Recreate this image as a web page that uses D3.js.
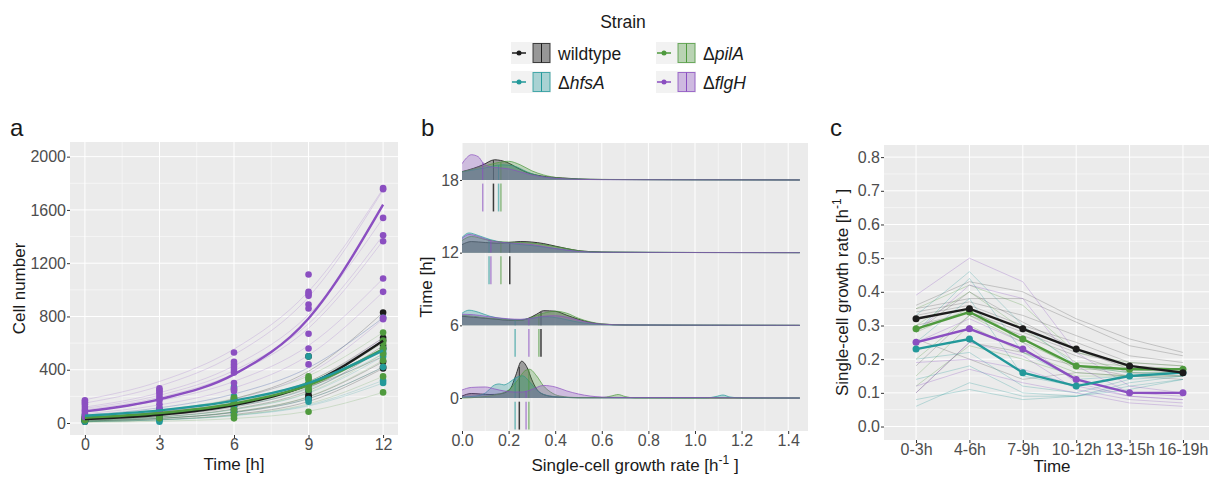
<!DOCTYPE html>
<html>
<head>
<meta charset="utf-8">
<script src="https://cdn.jsdelivr.net/npm/d3@7"></script>
<style>
  body { margin: 0; background: #fff; }
  svg { font-family: "Liberation Sans", Arial, sans-serif; }
</style>
</head>
<body>
<svg id="chart" width="1209" height="477"></svg>
<script>
// strains (legend order) and colours
const strains = ["wildtype", "hfsA", "pilA", "flgH"];
const strainColors = ["#1c1c1c", "#23999a", "#4f9a3e", "#8b4fc1"];
const ridgeFills = ["#3c3c3c", "#23999a", "#4f9a3e", "#8b4fc1"];
const ridgeFillOpacity = [0.45, 0.3, 0.3, 0.3];

// ---- panel a : cell numbers ----
const timePointsA = [0, 3, 6, 9, 12];
const cellsWildtype = [[40, 30, 25, 20, 15, 10], [85, 70, 55, 40, 30], [180, 150, 120, 100, 80],
  [500, 290, 240, 210, 200, 180], [830, 640, 620, 580, 560, 460, 420, 410]];
const cellsHfsA = [[60, 45, 30, 20, 10], [110, 90, 70, 45, 20, 10], [270, 200, 180, 160, 130, 100, 80, 55],
  [500, 330, 290, 250, 180, 160], [790, 560, 540, 520, 500, 420, 320, 300]];
const cellsPilA = [[50, 40, 30, 20], [95, 75, 55, 35], [250, 190, 150, 100, 60, 35],
  [350, 330, 300, 270, 250, 85], [680, 620, 600, 560, 520, 470, 350, 230]];
const cellsFlgH = [[170, 155, 140, 120, 100, 85, 65, 45], [260, 245, 230, 210, 190, 170, 140, 110, 90],
  [530, 460, 440, 420, 400, 380, 300, 260, 240], [1115, 985, 970, 955, 890, 860, 670, 560, 440],
  [1765, 1755, 1540, 1410, 1365, 1085, 985, 790, 780]];

// fitted growth curves of single replicates (values at 0,3,6,9,12 h)
const fitsWildtype = [[40, 85, 182, 389, 830], [35, 72, 150, 310, 640], [30, 64, 136, 291, 620],
  [25, 55, 120, 264, 580], [20, 46, 106, 243, 560], [15, 35, 83, 196, 460], [15, 35, 79, 183, 420],
  [10, 25, 64, 162, 410], [45, 82, 150, 274, 500]];
const fitsHfsA = [[60, 114, 218, 415, 790], [50, 91, 167, 306, 560], [40, 77, 147, 282, 540],
  [30, 61, 125, 255, 520], [20, 45, 100, 224, 500], [15, 35, 79, 183, 420], [10, 24, 57, 135, 320],
  [10, 23, 55, 128, 300]];
const fitsPilA = [[50, 96, 184, 354, 680], [40, 79, 157, 312, 620], [35, 71, 145, 295, 600],
  [30, 62, 130, 270, 560], [20, 45, 102, 230, 520], [15, 35, 84, 199, 470], [10, 24, 59, 144, 350],
  [5, 13, 34, 88, 230]];
const fitsFlgH = [[175, 312, 555, 988, 1760], [150, 277, 512, 946, 1750], [120, 227, 430, 814, 1540],
  [110, 208, 394, 745, 1410], [100, 192, 370, 712, 1370], [90, 168, 312, 582, 1085], [70, 136, 263, 509, 985],
  [60, 114, 218, 415, 790], [40, 84, 177, 371, 780], [30, 64, 139, 297, 640]];
// mean fits per strain
const meanFits = [[30, 62, 135, 290, 617], [55, 95, 168, 300, 545], [40, 75, 145, 285, 555], [87, 178, 365, 785, 1640]];
const yTicksA = [0, 400, 800, 1200, 1600, 2000];

// ---- panel b : growth rate densities ([rate, density]) ----
const ridgeTimes = [0, 6, 12, 18];
const ridge0h = [
  [[0,0.33],[0.04,0.75],[0.08,0.67],[0.12,0.58],[0.16,0.67],[0.19,1.0],[0.21,1.67],[0.23,3.67],[0.256,6.08],[0.28,5.0],[0.3,3.0],[0.32,1.5],[0.35,0.58],[0.4,0.2],[0.5,0.05],[0.8,0.03],[1.45,0]],
  [[0,0.17],[0.06,0.33],[0.1,0.83],[0.14,2.17],[0.16,2.33],[0.18,2.17],[0.2,2.5],[0.23,3.33],[0.26,3.67],[0.29,2.67],[0.32,1.33],[0.36,0.5],[0.42,0.17],[0.5,0.05],[1.05,0.03],[1.09,0.25],[1.12,0.5],[1.15,0.17],[1.2,0.02],[1.45,0]],
  [[0,0],[0.08,0.17],[0.14,0.5],[0.2,1.33],[0.24,3.0],[0.27,4.5],[0.29,4.75],[0.32,3.67],[0.35,2.0],[0.38,1.0],[0.42,0.33],[0.5,0.08],[0.6,0.08],[0.64,0.33],[0.67,0.58],[0.7,0.25],[0.74,0.03],[1.45,0]],
  [[0,1.33],[0.04,1.75],[0.1,1.83],[0.14,1.5],[0.18,1.17],[0.22,1.0],[0.26,1.0],[0.3,1.42],[0.35,2.08],[0.4,1.83],[0.45,1.17],[0.5,0.67],[0.55,0.33],[0.6,0.17],[0.7,0.08],[1.0,0.08],[1.1,0.05],[1.45,0]]
];
const ridge6h = [
  [[0,1.5],[0.05,1.33],[0.1,1.17],[0.15,1.0],[0.2,0.83],[0.25,0.83],[0.28,1.08],[0.32,1.83],[0.35,2.42],[0.4,2.33],[0.45,1.67],[0.5,1.0],[0.55,0.5],[0.6,0.2],[0.7,0.07],[0.9,0.03],[1.45,0]],
  [[0,2.0],[0.03,2.5],[0.07,2.17],[0.12,1.5],[0.18,1.08],[0.24,0.92],[0.3,1.17],[0.36,1.42],[0.42,1.17],[0.48,0.67],[0.55,0.25],[0.65,0.08],[1.45,0]],
  [[0,1.67],[0.05,1.5],[0.1,1.25],[0.15,1.08],[0.2,0.92],[0.25,0.83],[0.3,1.33],[0.35,2.0],[0.4,2.33],[0.45,2.0],[0.5,1.17],[0.55,0.58],[0.6,0.25],[0.7,0.07],[1.45,0]],
  [[0,1.83],[0.05,1.75],[0.1,1.5],[0.15,1.25],[0.2,1.08],[0.25,1.0],[0.3,1.17],[0.35,1.5],[0.4,1.58],[0.45,1.33],[0.5,0.83],[0.55,0.42],[0.6,0.2],[0.7,0.07],[1.45,0]]
];
const ridge12h = [
  [[0,1.33],[0.04,1.83],[0.1,1.67],[0.15,1.58],[0.2,1.67],[0.25,1.83],[0.3,1.75],[0.35,1.5],[0.4,1.08],[0.45,0.67],[0.5,0.33],[0.55,0.17],[0.65,0.07],[0.8,0.03],[1.45,0]],
  [[0,2.5],[0.03,3.25],[0.07,2.83],[0.12,2.17],[0.18,1.67],[0.25,1.33],[0.3,1.17],[0.35,0.92],[0.4,0.67],[0.45,0.42],[0.5,0.2],[0.6,0.07],[1.45,0]],
  [[0,2.0],[0.04,2.67],[0.1,2.17],[0.15,1.83],[0.2,1.75],[0.25,1.67],[0.3,1.58],[0.35,1.33],[0.4,1.0],[0.45,0.67],[0.5,0.33],[0.6,0.1],[1.45,0]],
  [[0,2.33],[0.03,3.0],[0.07,2.67],[0.12,2.0],[0.18,1.67],[0.25,1.5],[0.3,1.33],[0.35,1.0],[0.4,0.67],[0.45,0.42],[0.5,0.2],[0.6,0.07],[1.45,0]]
];
const ridge18h = [
  [[0,1.38],[0.05,1.92],[0.09,2.5],[0.14,3.33],[0.19,2.95],[0.24,1.95],[0.28,1.22],[0.34,0.67],[0.43,0.33],[0.5,0.17],[0.6,0.08],[0.8,0.05],[1.0,0.03],[1.2,0.02],[1.45,0]],
  [[0,1.33],[0.1,2.0],[0.17,2.5],[0.22,2.33],[0.28,1.33],[0.35,0.5],[0.45,0.17],[0.6,0.07],[1.45,0]],
  [[0,1.33],[0.1,2.33],[0.15,2.83],[0.2,3.08],[0.25,2.5],[0.3,1.5],[0.35,0.83],[0.42,0.33],[0.55,0.1],[0.8,0.05],[1.45,0]],
  [[0,2.67],[0.02,3.67],[0.04,4.17],[0.07,3.83],[0.09,2.83],[0.12,2.17],[0.16,2.0],[0.2,1.83],[0.25,1.33],[0.3,0.83],[0.35,0.5],[0.45,0.17],[0.6,0.05],[1.45,0]]
];
const ridgeData = [ridge0h, ridge6h, ridge12h, ridge18h];
// median growth rate per time (wildtype, hfsA, pilA, flgH)
const ridgeMedians = [[0.246, 0.228, 0.287, 0.275], [0.339, 0.228, 0.33, 0.287],
  [0.205, 0.116, 0.167, 0.124], [0.135, 0.157, 0.167, 0.089]];
const xTicksB = [0, 0.2, 0.4, 0.6, 0.8, 1.0, 1.2, 1.4];

// ---- panel c : mean single-cell growth rate per interval ----
const intervals = ["0-3h", "4-6h", "7-9h", "10-12h", "13-15h", "16-19h"];
const rateMeans = [[0.32, 0.35, 0.29, 0.23, 0.18, 0.16], [0.23, 0.26, 0.16, 0.12, 0.15, 0.16],
  [0.29, 0.34, 0.26, 0.18, 0.17, 0.17], [0.25, 0.29, 0.23, 0.14, 0.10, 0.10]];
const ratesWildtype = [[0.36,0.43,0.40,0.32,0.26,0.22],[0.35,0.38,0.38,0.31,0.24,0.21],[0.34,0.37,0.33,0.27,0.21,0.19],
  [0.33,0.36,0.30,0.25,0.19,0.18],[0.30,0.34,0.28,0.22,0.18,0.17],[0.28,0.40,0.31,0.23,0.17,0.16],
  [0.26,0.20,0.14,0.16,0.15,0.14],[0.18,0.33,0.27,0.21,0.16,0.15],[0.10,0.25,0.22,0.18,0.15,0.15]];
const ratesHfsA = [[0.33,0.46,0.30,0.18,0.16,0.16],[0.28,0.44,0.22,0.14,0.15,0.16],[0.25,0.38,0.15,0.12,0.15,0.16],
  [0.20,0.22,0.12,0.10,0.14,0.15],[0.14,0.18,0.10,0.09,0.13,0.15],[0.06,0.13,0.09,0.09,0.12,0.14],
  [0.08,0.11,0.08,0.09,0.11,0.14]];
const ratesPilA = [[0.35,0.42,0.36,0.22,0.19,0.18],[0.30,0.40,0.29,0.19,0.18,0.17],[0.28,0.35,0.26,0.17,0.17,0.17],
  [0.20,0.33,0.25,0.18,0.16,0.16],[0.15,0.30,0.22,0.16,0.15,0.16],[0.12,0.24,0.20,0.15,0.15,0.15]];
const ratesFlgH = [[0.39,0.50,0.43,0.22,0.12,0.10],[0.28,0.42,0.38,0.18,0.10,0.09],[0.25,0.32,0.25,0.13,0.09,0.08],
  [0.19,0.20,0.17,0.12,0.09,0.08],[0.12,0.17,0.13,0.10,0.07,0.06],[0.10,0.25,0.21,0.11,0.08,0.07]];
const yTicksC = [0, 0.1, 0.2, 0.3, 0.4, 0.5, 0.6, 0.7, 0.8];

const font = "Liberation Sans, Arial, sans-serif";
const svg = d3.select("#chart");

function styleAxis(g) {
  g.attr("font-size", 16).attr("font-family", font);
  g.select(".domain").remove();
  g.selectAll(".tick line").attr("stroke", "#333");
  g.selectAll(".tick text").attr("fill", "#4d4d4d");
}

function gridLines(g, box, xs, ys, sx, sy, w) {
  g.selectAll(null).data(xs).enter().append("line")
    .attr("x1", d => sx(d)).attr("x2", d => sx(d)).attr("y1", box.t).attr("y2", box.b)
    .attr("stroke", "#fff").attr("stroke-width", w);
  g.selectAll(null).data(ys).enter().append("line")
    .attr("y1", d => sy(d)).attr("y2", d => sy(d)).attr("x1", box.l).attr("x2", box.r)
    .attr("stroke", "#fff").attr("stroke-width", w);
}

// ===================== panel a =====================
const boxA = {l: 70, r: 398, t: 142, b: 435};
const xA = d3.scaleLinear().domain([-0.6, 12.6]).range([boxA.l, boxA.r]);
const yA = d3.scaleLinear().domain([-90, 2110]).range([boxA.b, boxA.t]);
const gA = svg.append("g");
gA.append("rect").attr("x", boxA.l).attr("y", boxA.t).attr("width", boxA.r - boxA.l)
  .attr("height", boxA.b - boxA.t).attr("fill", "#ebebeb");
gridLines(gA, boxA, [1.5, 4.5, 7.5, 10.5], [200, 600, 1000, 1400, 1800], xA, yA, 0.5);
gridLines(gA, boxA, timePointsA, yTicksA, xA, yA, 1);

const lineA = d3.line().x((d, i) => xA(timePointsA[i])).y(d => yA(d)).curve(d3.curveMonotoneX);
const fitsAll = [fitsWildtype, fitsHfsA, fitsPilA, fitsFlgH];
const cellsAll = [cellsWildtype, cellsHfsA, cellsPilA, cellsFlgH];
fitsAll.forEach((fits, s) => {
  gA.selectAll(null).data(fits).enter().append("path")
    .attr("d", lineA).attr("fill", "none")
    .attr("stroke", strainColors[s]).attr("stroke-opacity", s === 0 ? 0.3 : 0.25).attr("stroke-width", 0.8);
});
cellsAll.forEach((cells, s) => {
  const pts = [];
  cells.forEach((vals, i) => vals.forEach(v => pts.push([timePointsA[i], v])));
  gA.selectAll(null).data(pts).enter().append("circle")
    .attr("cx", d => xA(d[0])).attr("cy", d => yA(d[1])).attr("r", 3.3)
    .attr("fill", strainColors[s]);
});
[0, 2, 1, 3].forEach(s => {
  gA.append("path").attr("d", lineA(meanFits[s])).attr("fill", "none")
    .attr("stroke", strainColors[s]).attr("stroke-width", 2.4);
});
gA.append("g").attr("transform", `translate(${boxA.l},0)`)
  .call(d3.axisLeft(yA).tickValues(yTicksA).tickFormat(d3.format("d")).tickSize(3).tickPadding(1)).call(styleAxis);
gA.append("g").attr("transform", `translate(0,${boxA.b})`)
  .call(d3.axisBottom(xA).tickValues(timePointsA).tickFormat(d3.format("d")).tickSize(3).tickPadding(1)).call(styleAxis);
gA.append("text").attr("x", (boxA.l + boxA.r) / 2).attr("y", 470).attr("text-anchor", "middle")
  .attr("font-size", 17).attr("fill", "#1a1a1a").text("Time [h]");
gA.append("text").attr("transform", `translate(25,${(boxA.t + boxA.b) / 2}) rotate(-90)`)
  .attr("text-anchor", "middle").attr("font-size", 17).attr("fill", "#1a1a1a").text("Cell number");
gA.append("text").attr("x", 10).attr("y", 136).attr("font-size", 24).attr("fill", "#1a1a1a").text("a");

// ===================== panel b =====================
const boxB = {l: 462, r: 808, t: 143, b: 431};
const xB = d3.scaleLinear().domain([0, 1.485]).range([boxB.l, boxB.r]);
const yB = d3.scaleLinear().domain([-2.72, 21.05]).range([boxB.b, boxB.t]);
const ridgeScale = 0.5;          // hours of y axis per density unit
const medianTick = [0.3, 2.6];   // offset below the baseline, in hours
const gB = svg.append("g");
gB.append("defs").append("clipPath").attr("id", "clipB").append("rect")
  .attr("x", boxB.l).attr("y", boxB.t).attr("width", boxB.r - boxB.l).attr("height", boxB.b - boxB.t);
gB.append("rect").attr("x", boxB.l).attr("y", boxB.t).attr("width", boxB.r - boxB.l)
  .attr("height", boxB.b - boxB.t).attr("fill", "#ebebeb");
gridLines(gB, boxB, d3.range(0.1, 1.5, 0.2), [], xB, yB, 0.5);
gridLines(gB, boxB, xTicksB, [], xB, yB, 1);

const plotB = gB.append("g").attr("clip-path", "url(#clipB)");
function densAt(pts, x) {
  for (let i = 1; i < pts.length; i++) {
    if (x <= pts[i][0]) {
      const f = (x - pts[i - 1][0]) / (pts[i][0] - pts[i - 1][0]);
      return pts[i - 1][1] + f * (pts[i][1] - pts[i - 1][1]);
    }
  }
  return 0;
}
[3, 2, 1, 0].forEach(ti => {
  const t = ridgeTimes[ti];
  const area = d3.area().x(d => xB(d[0])).y0(yB(t)).y1(d => yB(t + d[1] * ridgeScale)).curve(d3.curveMonotoneX);
  const line = d3.line().x(d => xB(d[0])).y(d => yB(t + d[1] * ridgeScale)).curve(d3.curveMonotoneX);
  ridgeData[ti].forEach((pts, s) => {
    plotB.append("path").attr("d", area(pts)).attr("fill", ridgeFills[s]).attr("fill-opacity", ridgeFillOpacity[s]);
    plotB.append("path").attr("d", line(pts)).attr("fill", "none")
      .attr("stroke", strainColors[s]).attr("stroke-opacity", s === 0 ? 0.85 : 0.7).attr("stroke-width", 1);
    const m = ridgeMedians[ti][s];
    plotB.append("line").attr("x1", xB(m)).attr("x2", xB(m))
      .attr("y1", yB(t)).attr("y2", yB(t + densAt(pts, m) * ridgeScale))
      .attr("stroke", strainColors[s]).attr("stroke-opacity", 0.8).attr("stroke-width", 1);
    plotB.append("line").attr("x1", xB(m)).attr("x2", xB(m))
      .attr("y1", yB(t - medianTick[0])).attr("y2", yB(t - medianTick[1]))
      .attr("stroke", strainColors[s]).attr("stroke-opacity", s === 0 ? 0.85 : 0.6).attr("stroke-width", 1.5);
  });
});
gB.append("g").attr("transform", `translate(${boxB.l},0)`)
  .call(d3.axisLeft(yB).tickValues(ridgeTimes).tickSize(2).tickPadding(1)).call(styleAxis);
gB.append("g").attr("transform", `translate(0,${boxB.b})`)
  .call(d3.axisBottom(xB).tickValues(xTicksB).tickFormat(d3.format(".1f")).tickSize(3).tickPadding(1)).call(styleAxis);
const titleB = gB.append("text").attr("x", (boxB.l + boxB.r) / 2).attr("y", 471).attr("text-anchor", "middle")
  .attr("font-size", 17).attr("fill", "#1a1a1a");
titleB.append("tspan").text("Single-cell growth rate [h");
titleB.append("tspan").attr("dy", -7).attr("font-size", 12).text("-1");
titleB.append("tspan").attr("dy", 7).text(" ]");
gB.append("text").attr("transform", `translate(432,${(boxB.t + boxB.b) / 2}) rotate(-90)`)
  .attr("text-anchor", "middle").attr("font-size", 17).attr("fill", "#1a1a1a").text("Time [h]");
gB.append("text").attr("x", 421).attr("y", 136).attr("font-size", 24).attr("fill", "#1a1a1a").text("b");

// ===================== panel c =====================
const boxC = {l: 884, r: 1215, t: 145, b: 440};
const xC = d3.scalePoint().domain(intervals).range([boxC.l, boxC.r]).padding(0.6);
const yC = d3.scaleLinear().domain([-0.04, 0.836]).range([boxC.b, boxC.t]);
const gC = svg.append("g");
gC.append("rect").attr("x", boxC.l).attr("y", boxC.t).attr("width", boxC.r - boxC.l)
  .attr("height", boxC.b - boxC.t).attr("fill", "#ebebeb");
gridLines(gC, boxC, [], d3.range(0.05, 0.8, 0.1), xC, yC, 0.5);
gridLines(gC, boxC, intervals, yTicksC, xC, yC, 1);
const lineC = d3.line().x((d, i) => xC(intervals[i])).y(d => yC(d));
[ratesWildtype, ratesHfsA, ratesPilA, ratesFlgH].forEach((rates, s) => {
  gC.selectAll(null).data(rates).enter().append("path")
    .attr("d", lineC).attr("fill", "none")
    .attr("stroke", s === 0 ? "#555" : strainColors[s]).attr("stroke-opacity", 0.35).attr("stroke-width", 0.8);
});
[3, 1, 2, 0].forEach(s => {
  gC.append("path").attr("d", lineC(rateMeans[s])).attr("fill", "none")
    .attr("stroke", strainColors[s]).attr("stroke-width", 2.4);
  gC.selectAll(null).data(rateMeans[s]).enter().append("circle")
    .attr("cx", (d, i) => xC(intervals[i])).attr("cy", d => yC(d)).attr("r", 3.5)
    .attr("fill", strainColors[s]);
});
gC.append("g").attr("transform", `translate(${boxC.l},0)`)
  .call(d3.axisLeft(yC).tickValues(yTicksC).tickFormat(d3.format(".1f")).tickSize(3).tickPadding(1)).call(styleAxis);
gC.append("g").attr("transform", `translate(0,${boxC.b})`)
  .call(d3.axisBottom(xC).tickSize(3).tickPadding(1)).call(styleAxis);
gC.append("text").attr("x", 1052).attr("y", 472).attr("text-anchor", "middle")
  .attr("font-size", 17).attr("fill", "#1a1a1a").text("Time");
const titleC = gC.append("text").attr("transform", `translate(848,${(boxC.t + boxC.b) / 2}) rotate(-90)`)
  .attr("text-anchor", "middle").attr("font-size", 17).attr("fill", "#1a1a1a");
titleC.append("tspan").text("Single-cell growth rate [h");
titleC.append("tspan").attr("dy", -7).attr("font-size", 12).text("-1");
titleC.append("tspan").attr("dy", 7).text(" ]");
gC.append("text").attr("x", 830).attr("y", 136).attr("font-size", 24).attr("fill", "#1a1a1a").text("c");

// ===================== legend =====================
const gL = svg.append("g");
gL.append("text").attr("x", 623).attr("y", 28).attr("text-anchor", "middle")
  .attr("font-size", 17.5).attr("fill", "#1a1a1a").text("Strain");
const legendPos = [[511, 53], [511, 82], [656, 53], [656, 82]];
strains.forEach((name, s) => {
  const [lx, ly] = legendPos[s];
  const k = gL.append("g").attr("transform", `translate(${lx},${ly})`);
  k.append("rect").attr("x", 0).attr("y", -11).attr("width", 40).attr("height", 22).attr("fill", "#f2f2f2");
  k.append("line").attr("x1", 1).attr("x2", 15).attr("y1", 0).attr("y2", 0)
    .attr("stroke", strainColors[s]).attr("stroke-width", 1.5);
  k.append("circle").attr("cx", 8).attr("cy", 0).attr("r", 2.5).attr("fill", strainColors[s]);
  k.append("rect").attr("x", 22).attr("y", -9.5).attr("width", 17).attr("height", 19)
    .attr("fill", ridgeFills[s]).attr("fill-opacity", s === 0 ? 0.5 : 0.35)
    .attr("stroke", strainColors[s]).attr("stroke-opacity", 0.8).attr("stroke-width", 1);
  k.append("line").attr("x1", 30.5).attr("x2", 30.5).attr("y1", -9.5).attr("y2", 9.5)
    .attr("stroke", strainColors[s]).attr("stroke-width", 1);
  const t = k.append("text").attr("x", 47).attr("y", 7).attr("font-size", 17.5).attr("fill", "#1a1a1a");
  if (s === 0) {
    t.text(name);
  } else {
    t.append("tspan").text("\u0394");
    t.append("tspan").attr("font-style", "italic").text(name);
  }
});
</script>
</body>
</html>
